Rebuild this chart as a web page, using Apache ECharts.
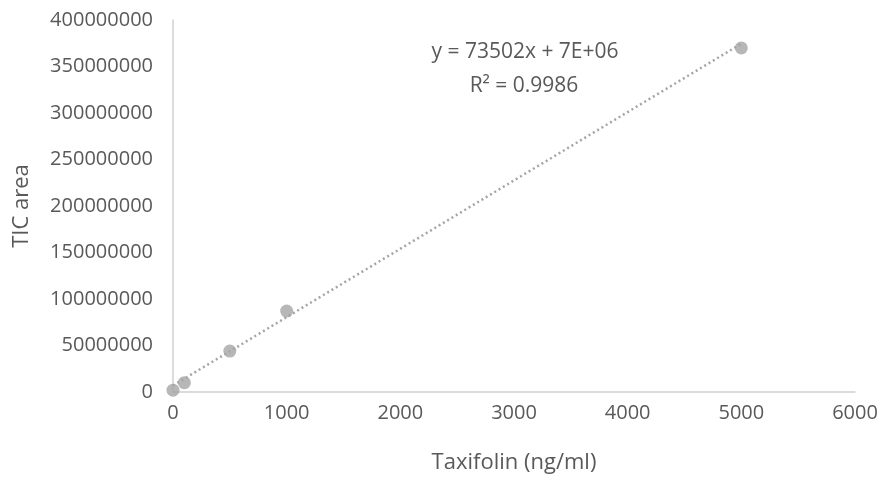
<!DOCTYPE html>
<html><head><meta charset="utf-8">
<script src="https://cdn.jsdelivr.net/npm/echarts@6/dist/echarts.min.js"></script>
<style>html,body{margin:0;padding:0;background:#fff}#c{width:884px;height:483px}</style>
</head><body><div id="c"></div>
<script>
const concentrations = [0, 100, 500, 1000, 5000];
const ticAreas = [2000000, 10000000, 44000000, 87000000, 370000000];
const trendX = [0, 5000];
const trendY = [7000000, 374510000];
const equationText = 'y = 73502x + 7E+06';
const r2Text = 'R\u00b2 = 0.9986';
const xTitle = 'Taxifolin (ng/ml)';
const yTitle = 'TIC area';

const font = 'Open Sans';
const txt = '#595959';
const chart = echarts.init(document.getElementById('c'));
chart.setOption({
  animation: false,
  grid: {left: 173, right: 29, top: 20, bottom: 91},
  xAxis: {
    type: 'value', min: 0, max: 6000, interval: 1000,
    name: xTitle, nameLocation: 'middle', nameGap: 60,
    nameTextStyle: {fontFamily: font, fontSize: 22, color: txt},
    axisLine: {show: true, lineStyle: {color: '#d0d0d0', width: 1.5}},
    axisTick: {show: false}, splitLine: {show: false},
    axisLabel: {fontFamily: font, fontSize: 20, color: txt, margin: 11,
      formatter: v => String(v)}
  },
  yAxis: {
    type: 'value', min: 0, max: 400000000, interval: 50000000,
    name: yTitle, nameLocation: 'middle', nameGap: 140,
    nameTextStyle: {fontFamily: font, fontSize: 22, color: txt},
    axisLine: {show: true, lineStyle: {color: '#d0d0d0', width: 1.5}},
    axisTick: {show: false}, splitLine: {show: false},
    axisLabel: {fontFamily: font, fontSize: 20, color: txt, margin: 20,
      formatter: v => String(v)}
  },
  series: [
    {type: 'line', data: trendX.map((x, i) => [x, trendY[i]]), symbol: 'none',
     lineStyle: {color: '#a5a5a5', width: 2.5, type: [2, 3]}, z: 1},
    {type: 'scatter', data: concentrations.map((x, i) => [x, ticAreas[i]]),
     symbolSize: 13, itemStyle: {color: '#a5a5a5'}, z: 2}
  ],
  graphic: [
    {type: 'text', x: 525, y: 52, style: {text: equationText, font: '21px "Open Sans"', fill: txt, align: 'center', verticalAlign: 'middle'}},
    {type: 'text', x: 524, y: 86, style: {text: r2Text, font: '21px "Open Sans"', fill: txt, align: 'center', verticalAlign: 'middle'}}
  ]
});
</script></body></html>
